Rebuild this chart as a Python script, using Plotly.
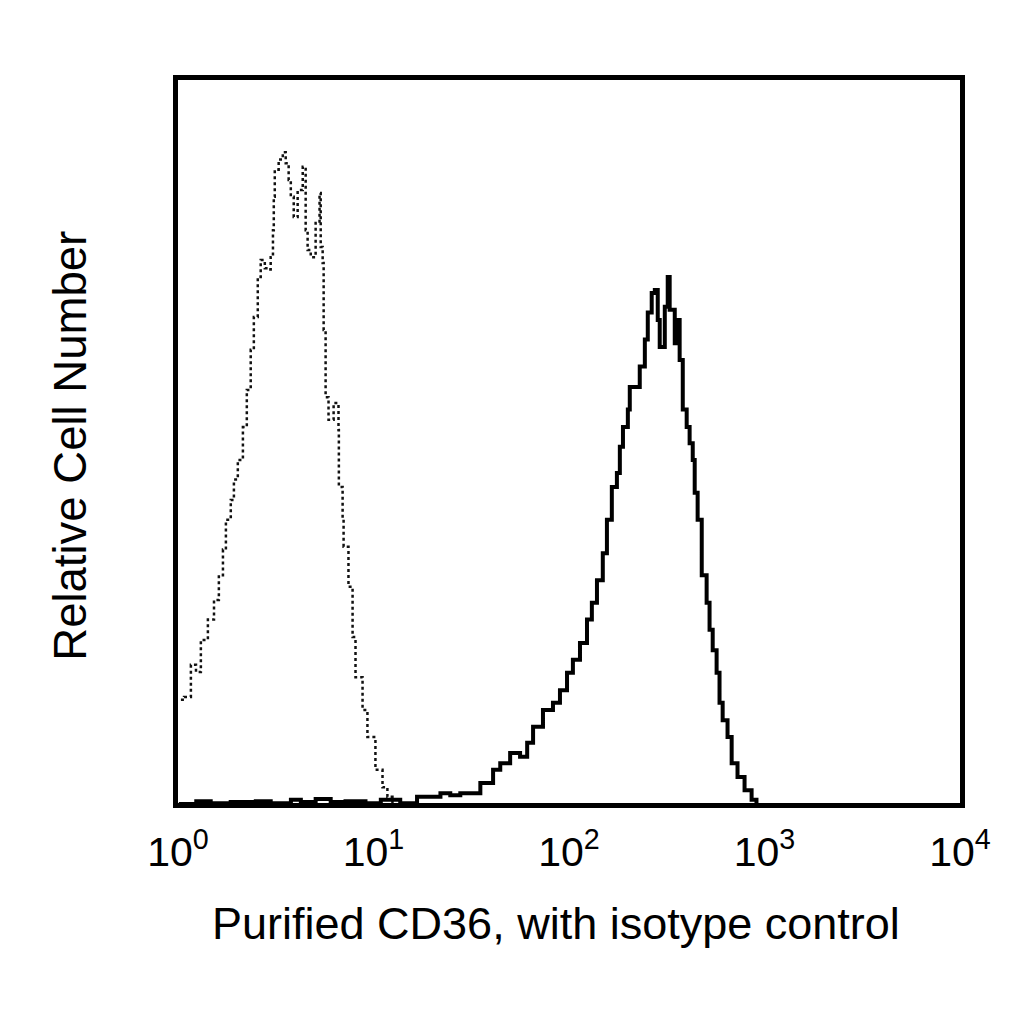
import plotly.graph_objects as go

# Isotype control histogram (dotted), fluorescence intensity vs relative count
iso_x = [1.035, 1.074, 1.164, 1.236, 1.309, 1.422, 1.528, 1.618, 1.698, 1.758,
         1.862, 1.932, 2.023, 2.148, 2.249, 2.355, 2.443, 2.559, 2.649, 2.780,
         2.877, 2.979, 3.060, 3.090, 3.126, 3.273, 3.436, 3.556, 3.681, 3.776,
         3.908, 4.093, 4.345, 4.498, 4.603, 4.775, 5.058, 5.297, 5.370, 5.495,
         5.559, 5.689, 5.888, 6.252, 6.622, 6.650, 6.950, 7.031, 7.447, 7.816,
         8.091, 8.790, 9.311, 10.23, 11.12, 11.78, 12.50]
iso_y = [14.7, 15.1, 19.5, 18.5, 22.9, 25.7, 28.4, 31.8, 35.3, 39.4,
         42.1, 44.9, 47.6, 52.1, 57.2, 62.7, 67.2, 72.7, 75.0, 73.9,
         73.7, 75.4, 79.1, 83.7, 87.4, 88.8, 89.8, 88.3, 86.0, 83.7,
         80.9, 84.6, 87.8, 79.1, 76.4, 75.4, 80.1, 84.2, 76.8, 74.6,
         65.4, 56.2, 53.1, 55.4, 51.7, 43.9, 39.4, 35.7, 30.2, 23.3,
         17.8, 13.3, 9.6, 5.1, 2.7, 1.4, 0.5]

# Purified CD36 histogram (solid)
cd36_x = [1.01, 1.24, 1.47, 1.86, 2.50, 2.98, 3.78, 4.25, 5.06, 6.04,
          7.19, 9.10, 10.9, 13.7, 16.7, 22.0, 24.7, 27.8, 31.3, 35.2,
          40.9, 44.5, 50.0, 56.2, 61.1, 65.5, 73.6, 82.8, 89.9, 97.7,
          104.7, 113.8, 123.6, 130.9, 139.0, 148.9, 156.3, 165.6, 175.8, 182.0,
          188.8, 200.0, 204.6, 217.3, 230.1, 244.3, 252.9, 264.9, 274.8, 284.4,
          291.1, 309.0, 319.9, 327.3, 347.5, 359.7, 368.1, 381.9, 399.9, 414.0,
          429.5, 439.5, 455.0, 477.5, 505.8, 523.6, 543.3, 568.9, 588.8, 610.9,
          647.1, 679.2, 727.8, 790.7, 859.0, 909.9]
cd36_y = [0.4, 0.8, 0.5, 0.7, 0.8, 0.5, 1.0, 0.7, 1.1, 0.7,
          0.8, 0.5, 1.0, 0.5, 1.4, 1.9, 1.6, 1.9, 1.9, 3.3,
          5.1, 6.0, 7.4, 6.9, 8.8, 11.0, 13.3, 14.3, 16.0, 18.4,
          20.2, 22.5, 25.7, 28.0, 31.1, 34.8, 39.4, 43.9, 45.8, 49.4,
          52.1, 54.5, 57.6, 57.6, 60.4, 64.1, 67.8, 70.5, 70.9, 66.8,
          63.1, 68.6, 72.7, 68.2, 63.6, 66.8, 61.3, 54.5, 52.1, 49.9,
          47.6, 43.1, 39.4, 31.8, 28.0, 24.3, 21.5, 18.4, 14.3, 11.9,
          9.6, 6.0, 4.1, 2.3, 1.0, 0.4]

tick_vals = [1, 10, 100, 1000, 10000]
tick_base = "10"
tick_exps = ["0", "1", "2", "3", "4"]
tick_text = [tick_base + "<sup>" + e + "</sup>" for e in tick_exps]

x_title = "Purified CD36, with isotype control"
y_title = "Relative Cell Number"

fig = go.Figure()
fig.add_trace(go.Scatter(x=iso_x, y=iso_y, mode="lines", line_shape="hv",
                         line=dict(color="#111111", width=2.5, dash="dot"),
                         name="Isotype control"))
fig.add_trace(go.Scatter(x=cd36_x, y=cd36_y, mode="lines", line_shape="hv",
                         line=dict(color="black", width=4),
                         name="Purified CD36"))

font_family = "Liberation Sans, Arial, sans-serif"
fig.update_layout(
    width=1024, height=1024,
    margin=dict(l=170, r=72, t=72, b=229),
    paper_bgcolor="white", plot_bgcolor="white",
    showlegend=False,
    font=dict(family=font_family, color="black"),
    annotations=[
        dict(text=x_title, xref="paper", yref="paper", x=0.484, y=-0.128,
             xanchor="center", yanchor="top", showarrow=False,
             font=dict(size=45, family=font_family, color="black")),
        dict(text=y_title, xref="paper", yref="paper", x=-0.137, y=0.494,
             xanchor="center", yanchor="middle", showarrow=False, textangle=-90,
             font=dict(size=45.5, family=font_family, color="black")),
    ],
)
fig.update_xaxes(
    type="log", range=[0, 4],
    tickvals=tick_vals, ticktext=tick_text,
    tickfont=dict(size=41, family=font_family, color="black"),
    ticks="outside", ticklen=9, tickcolor="white",
    showgrid=False, zeroline=False,
    showline=True, linewidth=5, linecolor="black", mirror=True,
)
fig.update_yaxes(
    range=[0.55, 99.7],
    showticklabels=False, ticks="",
    showgrid=False, zeroline=False,
    showline=True, linewidth=5, linecolor="black", mirror=True,
)

fig.write_html("out.html")
